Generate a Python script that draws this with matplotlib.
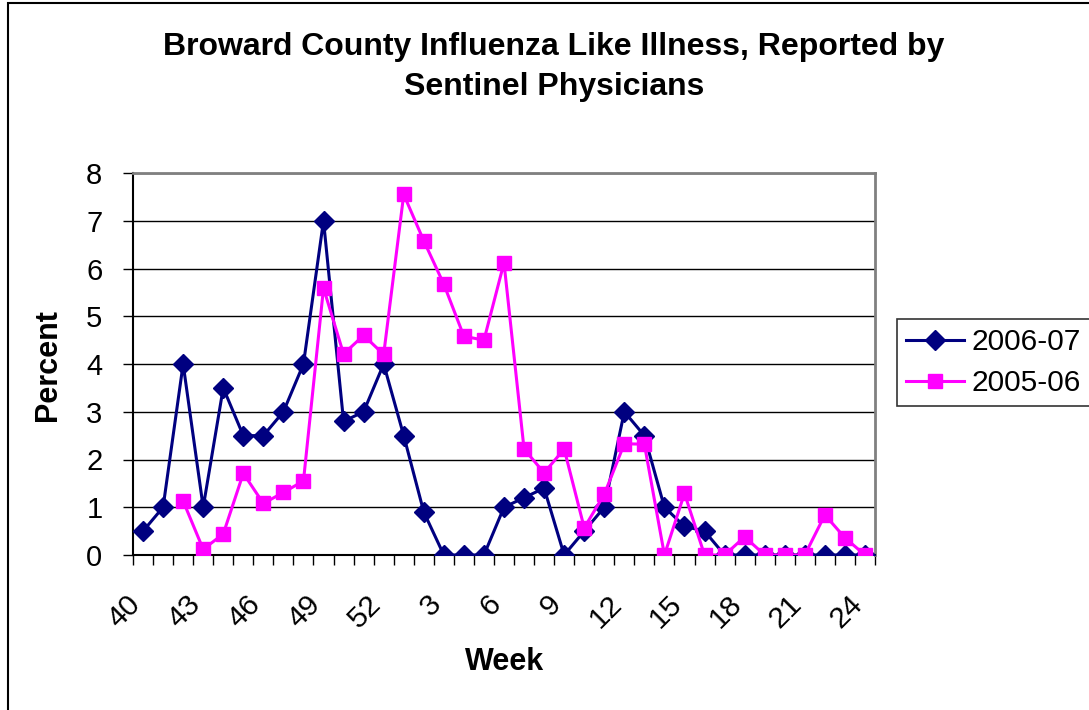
import numpy as np
import matplotlib.pyplot as plt
from matplotlib.patches import Rectangle
from matplotlib.transforms import ScaledTranslation

plt.rcParams['font.family'] = ['Liberation Sans', 'DejaVu Sans']

# Wochen 40-52 und 1-24
weeks = list(range(40, 53)) + list(range(1, 25))

ili_0607 = [0.5, 1, 4, 1, 3.5, 2.5, 2.5, 3, 4, 7, 2.8, 3, 4,
            2.5, 0.9, 0, 0, 0, 1, 1.2, 1.4, 0, 0.5, 1, 3, 2.5,
            1, 0.6, 0.5, 0, 0, 0, 0, 0, 0, 0, 0]
ili_0506 = [np.nan, np.nan, 1.13, 0.12, 0.44, 1.71, 1.08, 1.31, 1.55, 5.59, 4.21, 4.6, 4.2,
            7.55, 6.58, 5.67, 4.58, 4.5, 6.12, 2.22, 1.72, 2.22, 0.57, 1.27, 2.33, 2.32,
            0, 1.29, 0, 0, 0.38, 0, 0, 0, 0.84, 0.36, 0]

x = np.arange(len(weeks))
W, H = 1089, 710

fig = plt.figure(figsize=(W / 100, H / 100), dpi=100)
# Rahmen um das ganze Diagramm
fig.patches.append(Rectangle((8 / W, -0.1), 1.2, 1.1 - 3 / H, transform=fig.transFigure,
                             fill=False, edgecolor='black', linewidth=1.5))

ax = fig.add_axes([133 / W, 155 / H, (875 - 133) / W, (555 - 173) / H])

ax.plot(x, ili_0607, color='#000080', marker='D', markersize=10, linewidth=2.2,
        label='2006-07', zorder=3)
ax.plot(x, ili_0506, color='#FF00FF', marker='s', markersize=10.5, linewidth=2.2,
        label='2005-06', zorder=3)

ax.set_xlim(-0.5, len(weeks) - 0.5)
ax.set_ylim(0, 8)
ax.set_yticks(range(0, 9))
ax.yaxis.grid(True, color='black', linewidth=1)
ax.set_axisbelow(True)

ax.set_xticks(x[::3])
ax.set_xticklabels([str(w) for w in weeks[::3]], rotation=45, ha='right', va='top',
                   rotation_mode='anchor')
ax.set_xticks(np.arange(-0.5, len(weeks)), minor=True)
ax.tick_params(axis='x', which='major', length=0, pad=25, labelsize=21.5)
ax.tick_params(axis='x', which='minor', length=7, direction='out', width=1)
ax.tick_params(axis='y', length=7, width=1, labelsize=21, pad=15)
shift = ScaledTranslation(-17 / 100, 0, fig.dpi_scale_trans)
for lbl in ax.get_xticklabels():
    lbl.set_transform(lbl.get_transform() + shift)

for s in ['top', 'right']:
    ax.spines[s].set_color('#808080')
    ax.spines[s].set_linewidth(2)
ax.spines['left'].set_linewidth(1.5)
ax.spines['bottom'].set_linewidth(1.5)

ax.set_xlabel('Week', fontsize=22, fontweight='bold')
ax.xaxis.set_label_coords(505 / W, 1 - 662 / H, transform=fig.transFigure)
ax.xaxis.label.set_va('center')
ax.set_ylabel('Percent', fontsize=22, fontweight='bold')
ax.yaxis.set_label_coords(48 / W, 1 - 365 / H, transform=fig.transFigure)
ax.yaxis.label.set_va('center')

fig.text(554 / W, 1 - 55 / H, 'Broward County Influenza Like Illness, Reported by',
         ha='center', va='baseline', fontsize=23, fontweight='bold')
fig.text(554 / W, 1 - 95 / H, 'Sentinel Physicians',
         ha='center', va='baseline', fontsize=23, fontweight='bold')

leg = ax.legend(loc='upper left', bbox_to_anchor=(897 / W, 1 - 319 / H),
                bbox_transform=fig.transFigure, fontsize=21.5, frameon=True, fancybox=False,
                edgecolor='black', handlelength=1.95, handletextpad=0.25, borderpad=0.3,
                borderaxespad=0, labelspacing=0.45)
leg.get_frame().set_linewidth(1.2)

plt.savefig('out.png', dpi=100)
